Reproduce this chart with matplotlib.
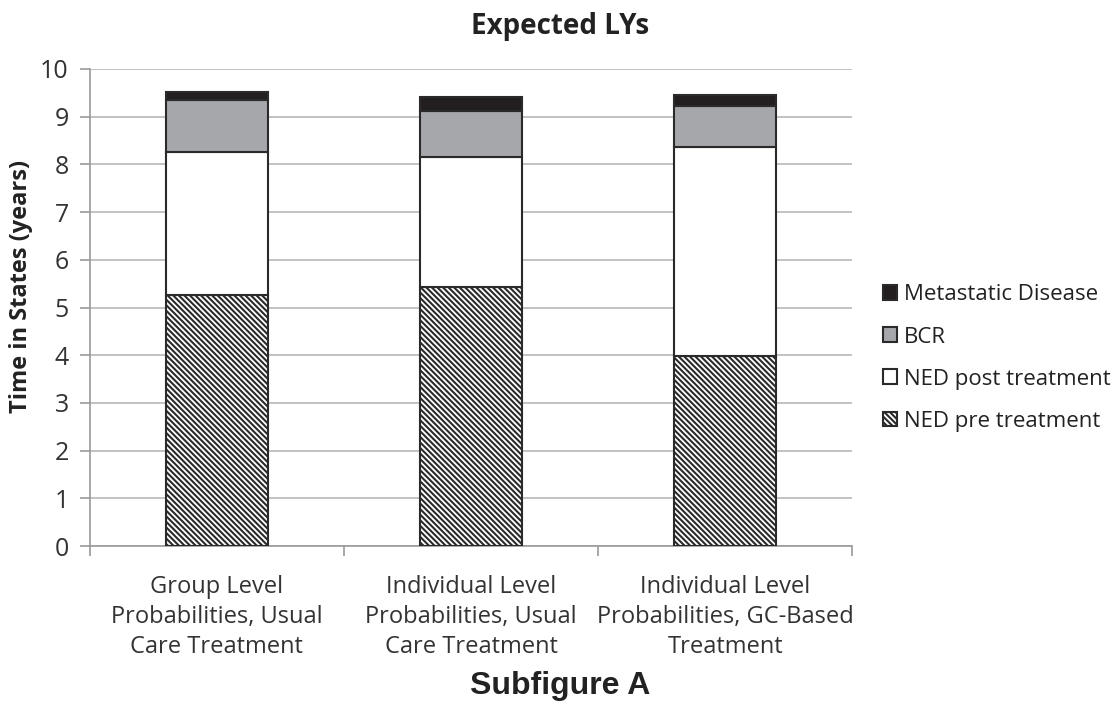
import matplotlib.pyplot as plt
import numpy as np

categories = ["Group Level\nProbabilities, Usual\nCare Treatment",
              "Individual Level\nProbabilities, Usual\nCare Treatment",
              "Individual Level\nProbabilities, GC-Based\nTreatment"]
ned_pre = [5.26, 5.44, 3.98]
ned_post = [3.00, 2.71, 4.38]
bcr = [1.10, 0.97, 0.86]
metastatic = [0.16, 0.29, 0.24]

plt.rcParams['font.family'] = ['Open Sans', 'DejaVu Sans']
plt.rcParams['hatch.linewidth'] = 1.5
plt.rcParams['hatch.color'] = '#222222'

fig = plt.figure(figsize=(11.2, 7.04), dpi=100)
ax = fig.add_axes([0.080, 0.2244, 0.681, 0.6776])

x = np.arange(len(categories))
w = 0.40
edge = '#2a2a2a'
b0 = np.zeros(3)
h1 = ax.bar(x, ned_pre, w, bottom=b0, color='white', edgecolor=edge, linewidth=1.5,
            hatch='\\\\\\\\\\\\', label='NED pre treatment', zorder=3)
b1 = b0 + np.array(ned_pre)
h2 = ax.bar(x, ned_post, w, bottom=b1, color='white', edgecolor=edge, linewidth=1.5,
            label='NED post treatment', zorder=3)
b2 = b1 + np.array(ned_post)
h3 = ax.bar(x, bcr, w, bottom=b2, color='#a6a7ab', edgecolor=edge, linewidth=1.5,
            label='BCR', zorder=3)
b3 = b2 + np.array(bcr)
h4 = ax.bar(x, metastatic, w, bottom=b3, color='#231f20', edgecolor=edge, linewidth=1.5,
            label='Metastatic Disease', zorder=3)

ax.set_xlim(-0.5, 2.5)
ax.set_ylim(0, 10)
ax.set_yticks(range(0, 11))
ax.yaxis.grid(True, color='#b8b8b8', linewidth=1.2, zorder=0)
for s in ['top', 'right']:
    ax.spines[s].set_visible(False)
for s in ['left', 'bottom']:
    ax.spines[s].set_color('#999999')
    ax.spines[s].set_linewidth(1.2)

ax.set_xticks(x)
ax.set_xticklabels(categories, fontsize=17, color='#333333', linespacing=1.33)
ax.set_xticks([-0.5, 0.5, 1.5, 2.5], minor=True)
ax.tick_params(axis='x', which='major', length=0, pad=21)
ax.tick_params(axis='x', which='minor', length=7, color='#999999', width=1.2)
ax.tick_params(axis='y', length=7, color='#999999', width=1.2, labelsize=18,
               labelcolor='#333333', pad=8)

ax.set_ylabel('Time in States (years)', fontsize=17, fontweight='bold', color='#222222')
ax.yaxis.set_label_coords(-0.074, 0.545)

handles = [h4, h3, h2, h1]
leg = ax.legend(handles, [h.get_label() for h in handles], loc='center left',
                bbox_to_anchor=(1.04, 0.394), frameon=False, fontsize=16,
                handlelength=0.65, handleheight=0.65, handletextpad=0.3,
                labelspacing=0.95, borderaxespad=0, borderpad=0)
for t in leg.get_texts():
    t.set_color('#222222')

fig.text(0.5, 0.963, 'Expected LYs', ha='center', va='center', fontsize=20,
         fontweight='bold', color='#222222')
fig.text(0.5, 0.025, 'Subfigure A', ha='center', va='center', fontsize=23,
         fontweight='bold', family='Liberation Sans', color='#222222')

fig.savefig('out.png', dpi=100)
